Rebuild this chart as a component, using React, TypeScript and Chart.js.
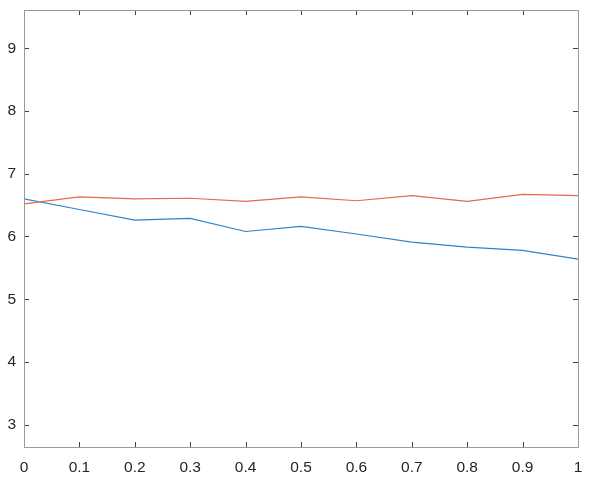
import React, { useEffect, useRef } from "react";
import { Chart, registerables } from "chart.js";

Chart.register(...registerables);

const xValues = [0, 0.1, 0.2, 0.3, 0.4, 0.5, 0.6, 0.7, 0.8, 0.9, 1];
const blueSeries = [6.6, 6.43, 6.26, 6.29, 6.08, 6.16, 6.04, 5.91, 5.83, 5.78, 5.64];
const redSeries = [6.52, 6.63, 6.6, 6.61, 6.56, 6.63, 6.57, 6.65, 6.56, 6.67, 6.65];
const xTicks = [0, 0.1, 0.2, 0.3, 0.4, 0.5, 0.6, 0.7, 0.8, 0.9, 1];
const xTickLabels = ["0", "0.1", "0.2", "0.3", "0.4", "0.5", "0.6", "0.7", "0.8", "0.9", "1"];
const yTicks = [3, 4, 5, 6, 7, 8, 9];
const yTickLabels = ["3", "4", "5", "6", "7", "8", "9"];
const yMin = 2.645;
const yMax = 9.61;

const boxPlugin = {
  id: "matlabBox",
  afterDatasetsDraw(chart: any) {
    const { ctx, chartArea, scales } = chart;
    const { left, right, top, bottom } = chartArea;
    ctx.save();
    ctx.strokeStyle = "#454545";
    ctx.lineWidth = 1;
    const len = 5;
    ctx.beginPath();
    xTicks.forEach((v) => {
      const x = Math.round(scales.x.getPixelForValue(v)) + 0.5;
      ctx.moveTo(x, bottom);
      ctx.lineTo(x, bottom - len);
      ctx.moveTo(x, top);
      ctx.lineTo(x, top + len);
    });
    yTicks.forEach((v) => {
      const y = Math.round(scales.y.getPixelForValue(v)) + 0.5;
      ctx.moveTo(left, y);
      ctx.lineTo(left + len, y);
      ctx.moveTo(right, y);
      ctx.lineTo(right - len, y);
    });
    ctx.stroke();
    ctx.strokeStyle = "#9a9a9a";
    ctx.strokeRect(Math.round(left) + 0.5, Math.round(top) + 0.5, Math.round(right - left), Math.round(bottom - top));
    ctx.restore();
  },
};

const tickFont = { family: "Liberation Sans, Arial, sans-serif", size: 15.5 };

export default function App() {
  const ref = useRef<HTMLCanvasElement | null>(null);
  useEffect(() => {
    if (!ref.current) return;
    const chart = new Chart(ref.current, {
      type: "line",
      data: {
        labels: xValues,
        datasets: [
          {
            data: xValues.map((x, i) => ({ x, y: blueSeries[i] })),
            borderColor: "#3283c8",
            borderWidth: 1.2,
            pointRadius: 0,
            tension: 0,
            order: 1,
          },
          {
            data: xValues.map((x, i) => ({ x, y: redSeries[i] })),
            borderColor: "#e26c4c",
            borderWidth: 1.2,
            pointRadius: 0,
            tension: 0,
            order: 0,
          },
        ],
      },
      options: {
        animation: false,
        responsive: false,
        maintainAspectRatio: false,
        layout: { padding: { left: 0, top: 10, right: 15, bottom: 0 } },
        plugins: { legend: { display: false }, tooltip: { enabled: false } },
        scales: {
          x: {
            type: "linear",
            min: 0,
            max: 1,
            afterBuildTicks: (s: any) => {
              s.ticks = xTicks.map((v) => ({ value: v }));
            },
            afterFit: (s: any) => {
              s.height = 39;
              s.paddingLeft = 0;
              s.paddingRight = 0;
            },
            ticks: {
              autoSkip: false,
              maxRotation: 0,
              padding: 11,
              color: "#262626",
              font: tickFont,
              callback: (v: any) => {
                const i = xTicks.findIndex((t) => Math.abs(t - v) < 1e-9);
                return i >= 0 ? xTickLabels[i] : "";
              },
            },
            grid: { display: false, drawTicks: false },
            border: { display: false },
          },
          y: {
            type: "linear",
            min: yMin,
            max: yMax,
            afterBuildTicks: (s: any) => {
              s.ticks = yTicks.map((v) => ({ value: v }));
            },
            afterFit: (s: any) => {
              s.width = 24;
              s.paddingTop = 0;
              s.paddingBottom = 0;
            },
            ticks: {
              autoSkip: false,
              padding: 8,
              color: "#262626",
              font: tickFont,
              callback: (v: any) => {
                const i = yTicks.findIndex((t) => Math.abs(t - v) < 1e-9);
                return i >= 0 ? yTickLabels[i] : "";
              },
            },
            grid: { display: false, drawTicks: false },
            border: { display: false },
          },
        },
      },
      plugins: [boxPlugin],
    });
    return () => chart.destroy();
  }, []);
  return (
    <div style={{ position: "fixed", left: 0, top: 0, width: 593, height: 486, background: "#fff" }}>
      <canvas ref={ref} width={593} height={486} style={{ display: "block" }} />
    </div>
  );
}
